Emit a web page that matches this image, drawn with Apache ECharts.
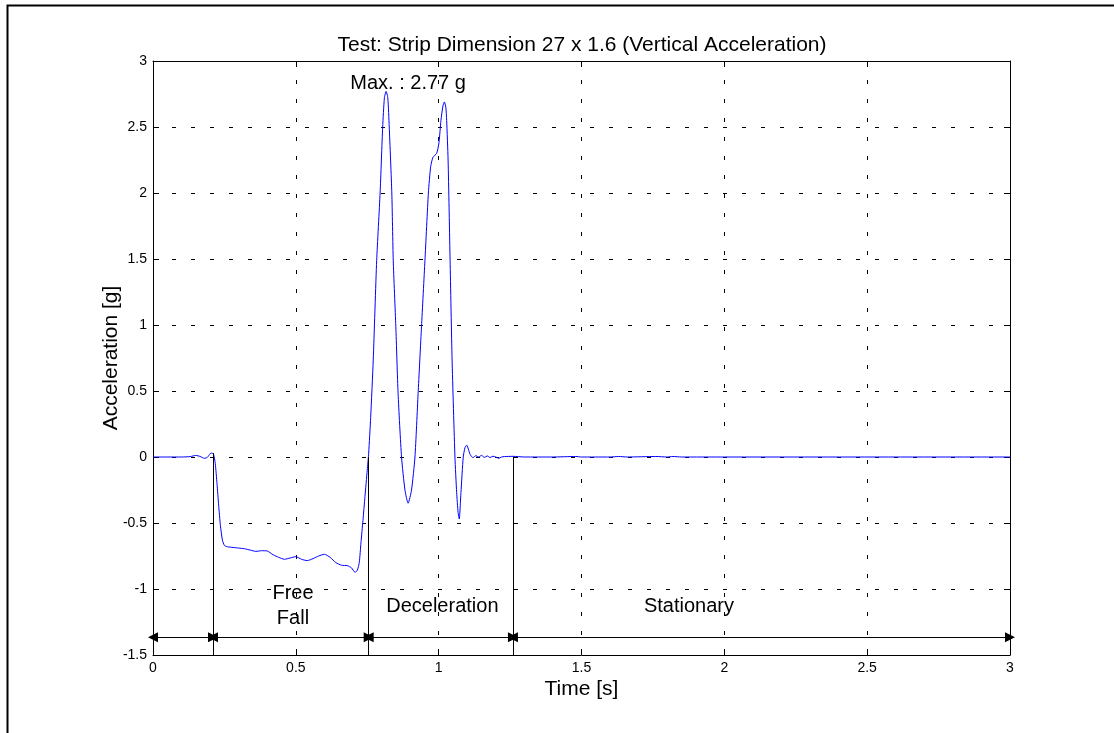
<!DOCTYPE html>
<html>
<head>
<meta charset="utf-8">
<title>Vertical Acceleration</title>
<script src="https://cdn.jsdelivr.net/npm/echarts@6/dist/echarts.min.js"></script>
<style>
  html, body { margin: 0; padding: 0; background: #fff; }
  #chart { width: 1114px; height: 733px; }
</style>
</head>
<body>
<div id="chart"></div>
<script>
const timeS = [
  0.00, 0.05, 0.10, 0.13, 0.15, 0.165, 0.18, 0.19, 0.20, 0.205, 0.212, 0.218,
  0.224, 0.230, 0.236, 0.243, 0.25, 0.26, 0.28, 0.30, 0.32, 0.34, 0.36, 0.38,
  0.40, 0.42, 0.44, 0.46, 0.48, 0.50, 0.52, 0.54, 0.56, 0.58, 0.60, 0.62,
  0.64, 0.66, 0.68, 0.695, 0.707, 0.715, 0.722, 0.728, 0.735, 0.742, 0.75, 0.755,
  0.762, 0.771, 0.783, 0.795, 0.804, 0.81, 0.816, 0.822, 0.827, 0.836, 0.841, 0.85,
  0.858, 0.87, 0.882, 0.893, 0.905, 0.917, 0.928, 0.94, 0.952, 0.964, 0.972, 0.98,
  0.993, 1.001, 1.008, 1.015, 1.02, 1.025, 1.028, 1.033, 1.04, 1.047, 1.057, 1.063,
  1.068, 1.072, 1.078, 1.086, 1.092, 1.098, 1.104, 1.11, 1.12, 1.13, 1.14, 1.15,
  1.16, 1.17, 1.18, 1.19, 1.20, 1.21, 1.22, 1.23, 1.26, 1.30, 1.40, 1.48,
  1.50, 1.60, 1.63, 1.66, 1.76, 1.80, 1.82, 1.85, 2.00, 3.00
];
const accelG = [
  0, 0, 0, 0.003, 0.012, 0.004, -0.01, -0.003, 0.025, 0.03, 0.02, -0.05,
  -0.2, -0.37, -0.52, -0.63, -0.67, -0.68, -0.685, -0.69, -0.695, -0.705, -0.715, -0.71,
  -0.712, -0.74, -0.76, -0.775, -0.765, -0.755, -0.775, -0.785, -0.77, -0.75, -0.737, -0.76,
  -0.8, -0.82, -0.823, -0.84, -0.873, -0.86, -0.8, -0.65, -0.48, -0.3, -0.1, 0.03,
  0.3, 0.735, 1.49, 2.0, 2.5, 2.72, 2.77, 2.72, 2.5, 2.0, 1.49, 0.99,
  0.48, 0.0, -0.25, -0.35, -0.25, 0, 0.48, 0.99, 1.49, 2.0, 2.2, 2.27,
  2.3, 2.38, 2.55, 2.66, 2.69, 2.65, 2.55, 2.25, 1.49, 0.735, 0.0, -0.27,
  -0.42, -0.47, -0.27, 0.0, 0.07, 0.09, 0.06, 0.02, -0.005, 0.01, 0.0, 0.012,
  -0.003, 0.008, -0.004, 0.006, 0.0, -0.01, 0.0, 0.003, 0.005, 0.0, 0.0, 0.004,
  0.0, 0.0, 0.004, 0, 0.004, 0, 0.004, 0, 0, 0
];

// phase boundaries [s] and the level of the dimension arrows [g]
const phaseBounds = [0, 0.21, 0.755, 1.26, 3];
const phaseStartG = [0.03, 0.0, 0.0];
const arrowLevel = -1.365;

// text notes: position in data units
const noteT = [0.893, 0.49, 1.013, 1.876];
const noteG = [2.83, -1.13, -1.13, -1.13];
const noteText = ['Max. : 2.77 g', 'Free\nFall', 'Deceleration', 'Stationary'];

const xTicks = { min: 0, max: 3, interval: 0.5 };
const yTicks = { min: -1.5, max: 3, interval: 0.5 };

const FONT = "'Liberation Sans', Arial, Helvetica, sans-serif";

const chart = echarts.init(document.getElementById('chart'));

const gridDots = { show: true, lineStyle: { color: '#000', width: 1, type: [4, 15] } };
const tick = { show: true, inside: true, length: 6, lineStyle: { color: '#000' } };
const axLine = { show: true, onZero: false, lineStyle: { color: '#000', width: 1 } };
const tickLabel = { color: '#000', fontSize: 14, fontFamily: FONT };

const arrowLines = [];
for (let i = 0; i < phaseBounds.length - 1; i++) {
  arrowLines.push([
    { coord: [phaseBounds[i], arrowLevel] },
    { coord: [phaseBounds[i + 1], arrowLevel] }
  ]);
}
const boundLines = [];
for (let i = 1; i < phaseBounds.length - 1; i++) {
  boundLines.push([
    { coord: [phaseBounds[i], phaseStartG[i - 1]] },
    { coord: [phaseBounds[i], -1.5] }
  ]);
}

const option = {
  backgroundColor: '#fff',
  animation: false,
  title: {
    text: 'Test: Strip Dimension 27 x 1.6 (Vertical Acceleration)',
    left: 577,
    top: 30,
    textAlign: 'center',
    textStyle: { color: '#000', fontSize: 21, fontWeight: 'normal', fontFamily: FONT }
  },
  graphic: [{
    type: 'rect',
    shape: { x: 7.5, y: 5.5, width: 1200, height: 800 },
    style: { fill: 'none', stroke: '#000', lineWidth: 2 },
    silent: true
  }],
  grid: { left: 153, right: 104, top: 61, bottom: 78 },
  xAxis: [
    {
      type: 'value', position: 'bottom', ...xTicks,
      name: 'Time [s]', nameLocation: 'middle', nameGap: 24, nameMoveOverlap: false,
      nameTextStyle: { color: '#000', fontSize: 21, fontFamily: FONT },
      axisLine: axLine, axisTick: tick, splitLine: gridDots,
      axisLabel: { ...tickLabel, margin: 6 }
    },
    {
      type: 'value', position: 'top', ...xTicks,
      axisLine: axLine, axisTick: tick, splitLine: { show: false },
      axisLabel: { show: false }
    }
  ],
  yAxis: [
    {
      type: 'value', position: 'left', ...yTicks,
      name: 'Acceleration [g]', nameLocation: 'middle', nameGap: 31, nameMoveOverlap: false,
      nameTextStyle: { color: '#000', fontSize: 21, fontFamily: FONT },
      axisLine: axLine, axisTick: tick, splitLine: gridDots,
      axisLabel: { ...tickLabel, margin: 6 }
    },
    {
      type: 'value', position: 'right', ...yTicks,
      axisLine: axLine, axisTick: tick, splitLine: { show: false },
      axisLabel: { show: false }
    }
  ],
  series: [
    {
      name: 'Acceleration',
      type: 'line',
      data: timeS.map((t, i) => [t, accelG[i]]),
      showSymbol: false,
      smooth: 0.2,
      lineStyle: { color: '#0000ff', width: 1 },
      z: 3,
      markLine: {
        silent: true,
        animation: false,
        symbol: ['none', 'none'],
        label: { show: false },
        lineStyle: { color: '#000', width: 1, type: 'solid' },
        emphasis: { disabled: true },
        data: boundLines
      }
    },
    {
      name: 'arrows',
      type: 'line',
      data: [],
      markLine: {
        silent: true,
        animation: false,
        symbol: ['triangle', 'triangle'],
        symbolSize: 10,
        label: { show: false },
        lineStyle: { color: '#000', width: 1, type: 'solid' },
        itemStyle: { color: '#000' },
        emphasis: { disabled: true },
        data: arrowLines
      }
    },
    {
      name: 'notes',
      type: 'scatter',
      symbolSize: 0,
      silent: true,
      itemStyle: { opacity: 1 },
      data: noteT.map((t, i) => ({ value: [t, noteG[i]], name: noteText[i] })),
      label: {
        show: true,
        position: 'inside',
        formatter: p => p.name,
        color: '#000',
        textBorderWidth: 0,
        fontSize: 20,
        lineHeight: 25,
        fontFamily: FONT,
        align: 'center',
        verticalAlign: 'middle'
      }
    }
  ]
};

chart.setOption(option);
</script>
</body>
</html>
